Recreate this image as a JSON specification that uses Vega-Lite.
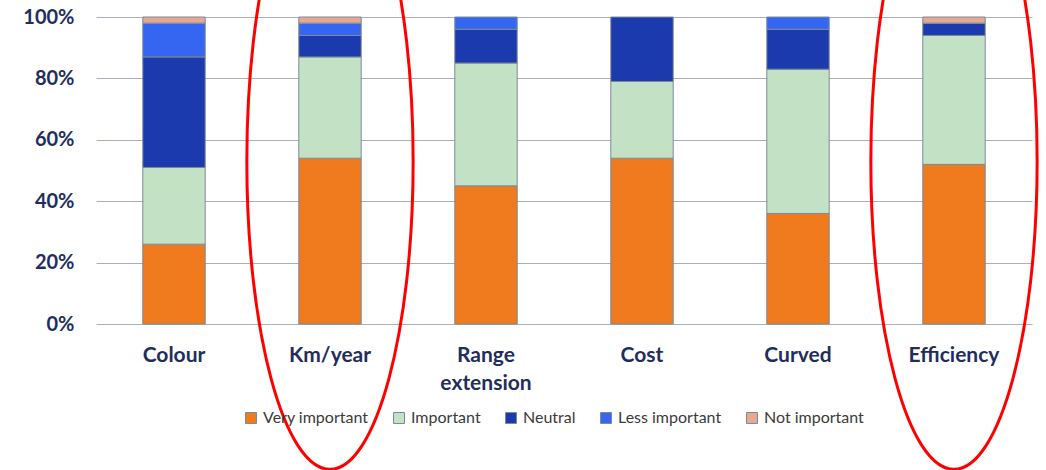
{
  "$schema": "https://vega.github.io/schema/vega-lite/v6.json",
  "autosize": {"type": "none"},
  "width": 936,
  "height": 307,
  "padding": {"left": 96, "top": 17, "right": 14, "bottom": 146},
  "background": "#ffffff",
  "config": {
    "view": {"stroke": null},
    "font": "Lato"
  },
  "layer": [
    {
      "data": {
        "values": [
          {"criterion": "Colour", "level": "Very important", "pct": 26, "rank": 1},
          {"criterion": "Colour", "level": "Important", "pct": 25, "rank": 2},
          {"criterion": "Colour", "level": "Neutral", "pct": 36, "rank": 3},
          {"criterion": "Colour", "level": "Less important", "pct": 11, "rank": 4},
          {"criterion": "Colour", "level": "Not important", "pct": 2, "rank": 5},
          {"criterion": "Km/year", "level": "Very important", "pct": 54, "rank": 1},
          {"criterion": "Km/year", "level": "Important", "pct": 33, "rank": 2},
          {"criterion": "Km/year", "level": "Neutral", "pct": 7, "rank": 3},
          {"criterion": "Km/year", "level": "Less important", "pct": 4, "rank": 4},
          {"criterion": "Km/year", "level": "Not important", "pct": 2, "rank": 5},
          {"criterion": "Range extension", "level": "Very important", "pct": 45, "rank": 1},
          {"criterion": "Range extension", "level": "Important", "pct": 40, "rank": 2},
          {"criterion": "Range extension", "level": "Neutral", "pct": 11, "rank": 3},
          {"criterion": "Range extension", "level": "Less important", "pct": 4, "rank": 4},
          {"criterion": "Cost", "level": "Very important", "pct": 54, "rank": 1},
          {"criterion": "Cost", "level": "Important", "pct": 25, "rank": 2},
          {"criterion": "Cost", "level": "Neutral", "pct": 21, "rank": 3},
          {"criterion": "Curved", "level": "Very important", "pct": 36, "rank": 1},
          {"criterion": "Curved", "level": "Important", "pct": 47, "rank": 2},
          {"criterion": "Curved", "level": "Neutral", "pct": 13, "rank": 3},
          {"criterion": "Curved", "level": "Less important", "pct": 4, "rank": 4},
          {"criterion": "Efficiency", "level": "Very important", "pct": 52, "rank": 1},
          {"criterion": "Efficiency", "level": "Important", "pct": 42, "rank": 2},
          {"criterion": "Efficiency", "level": "Neutral", "pct": 4, "rank": 3},
          {"criterion": "Efficiency", "level": "Not important", "pct": 2, "rank": 5}
        ]
      },
      "mark": {"type": "bar", "stroke": "#7D8A97", "strokeWidth": 1},
      "encoding": {
        "x": {
          "field": "criterion",
          "type": "nominal",
          "sort": ["Colour", "Km/year", "Range extension", "Cost", "Curved", "Efficiency"],
          "scale": {"paddingInner": 0.6, "paddingOuter": 0.3},
          "axis": {
            "title": null,
            "labelAngle": 0,
            "labelFont": "Lato",
            "labelFontSize": 21,
            "labelFontWeight": "bold",
            "labelColor": "#1F2E5C",
            "labelPadding": 20,
            "labelLineHeight": 28,
            "labelExpr": "datum.value == 'Range extension' ? ['Range', 'extension'] : datum.value",
            "ticks": false,
            "domain": false,
            "grid": false
          }
        },
        "y": {
          "field": "pct",
          "type": "quantitative",
          "stack": "normalize",
          "scale": {"domain": [0, 1]},
          "axis": {
            "title": null,
            "format": ".0%",
            "values": [0, 0.2, 0.4, 0.6, 0.8, 1],
            "labelFont": "Lato",
            "labelFontSize": 20,
            "labelFontWeight": "bold",
            "labelColor": "#1F2E5C",
            "labelPadding": 22,
            "ticks": false,
            "domain": false,
            "grid": true,
            "gridColor": "#A7B0BB",
            "gridWidth": 1
          }
        },
        "order": {"field": "rank", "type": "quantitative", "sort": "ascending"},
        "color": {
          "field": "level",
          "type": "nominal",
          "scale": {
            "domain": ["Very important", "Important", "Neutral", "Less important", "Not important"],
            "range": ["#F07A1E", "#C3E1C5", "#1A3AAE", "#3566F2", "#E6A893"]
          },
          "legend": {
            "title": null,
            "orient": "none",
            "direction": "horizontal",
            "legendX": 147,
            "legendY": 393,
            "symbolType": "square",
            "symbolSize": 121,
            "symbolStrokeColor": "#7D8A97",
            "symbolStrokeWidth": 1,
            "symbolOpacity": 1,
            "labelFont": "Lato",
            "labelFontSize": 16,
            "labelColor": "#3B3B3B",
            "labelOffset": 4,
            "columnPadding": 22
          }
        }
      }
    },
    {
      "data": {"values": [{"criterion": "Km/year"}, {"criterion": "Efficiency"}]},
      "mark": {
        "type": "point",
        "shape": "M0,-1C0.149,-1,0.27,-0.552,0.27,0C0.27,0.552,0.149,1,0,1C-0.149,1,-0.27,0.552,-0.27,0C-0.27,-0.552,-0.149,-1,0,-1Z",
        "size": 379456,
        "filled": false,
        "stroke": "#FF0000",
        "strokeWidth": 3,
        "opacity": 1,
        "clip": false
      },
      "encoding": {
        "x": {
          "field": "criterion",
          "type": "nominal",
          "sort": ["Colour", "Km/year", "Range extension", "Cost", "Curved", "Efficiency"]
        },
        "y": {"datum": 0.53, "type": "quantitative"}
      }
    }
  ]
}
